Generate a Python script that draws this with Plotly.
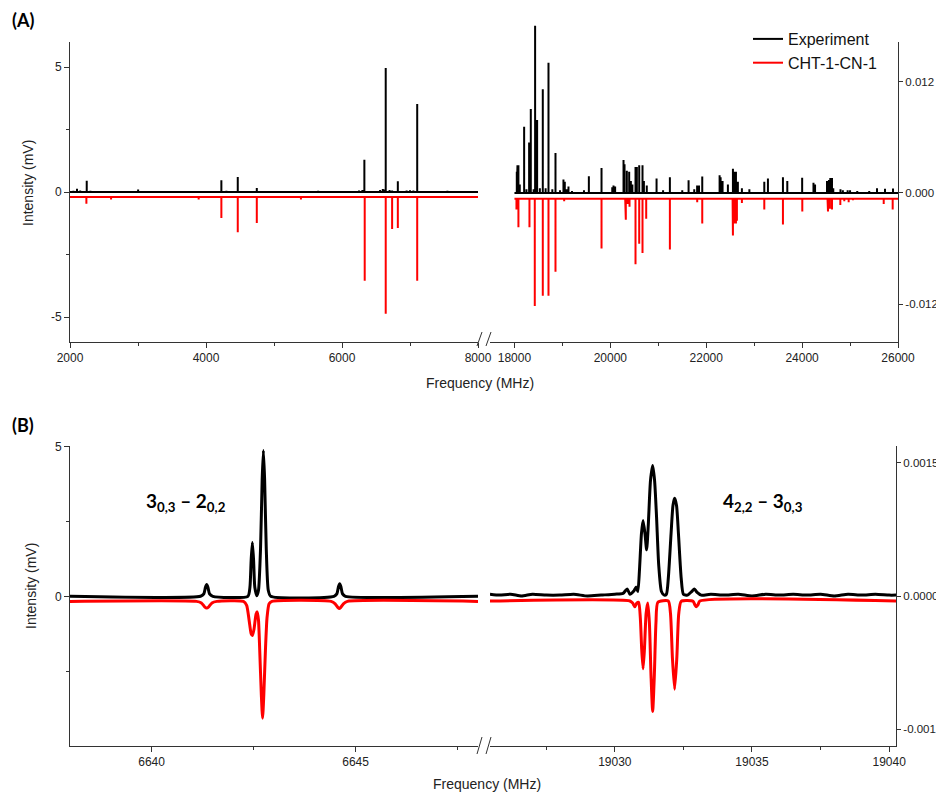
import plotly.graph_objects as go

# ---------------- Panel (A): stick spectra ----------------
# Low band 2000-8000 MHz, left axis (mV)
expA_lo_freq = [2050, 2103, 2150, 2246, 2300, 2600, 3002, 3400, 3900, 4226, 4300, 4467, 4747,
                5100, 5650, 6000, 6250, 6300, 6329, 6560, 6600, 6620, 6643, 6700, 6737, 6821,
                6950, 7000, 7050, 7106, 7300, 7550]
expA_lo_int = [0.05, 0.13, 0.06, 0.45, 0.05, 0.04, 0.10, 0.03, 0.04, 0.47, 0.05, 0.60, 0.16,
               0.03, 0.05, 0.04, 0.06, 0.08, 1.29, 0.08, 0.12, 0.10, 4.96, 0.08, 0.06, 0.43,
               0.06, 0.07, 0.06, 3.52, 0.04, 0.05]
simA_lo_base = -0.2
simA_lo_freq = [2241, 2604, 3892, 4226, 4467, 4747, 5396, 6334, 6643, 6737, 6821, 7106]
simA_lo_int = [-0.47, -0.30, -0.30, -1.04, -1.61, -1.24, -0.30, -3.55, -4.87, -1.48, -1.44, -3.55]

# High band 18000-26000 MHz, right axis
expA_hi_freq = [18049, 18063, 18083, 18111, 18202, 18250, 18306, 18341, 18400, 18431, 18473, 18530,
                18591, 18650, 18710, 18790, 18856, 18950, 19022, 19050, 19090, 19127, 19200, 19450,
                19552, 19816, 20040, 20066, 20100, 20275, 20296, 20344, 20393, 20428, 20460, 20525,
                20553, 20602, 20671, 20700, 20760, 20964, 21100, 21242, 21500, 21632, 21750, 21810,
                21850, 21917, 22279, 22300, 22341, 22452, 22557, 22585, 22620, 22660, 22744, 22900,
                23211, 23287, 23600, 23691, 24001, 24237, 24270, 24519, 24560, 24588, 24623, 24650,
                24800, 24850, 24950, 25000, 25150, 25400, 25562, 25729, 25896]
expA_hi_int = [0.00228, 0.00298, 0.0030, 0.0009, 0.00714, 0.0004, 0.00544, 0.00906, 0.0004, 0.01805,
               0.00787, 0.0005, 0.0112, 0.0005, 0.01407, 0.0004, 0.00431, 0.0003, 0.00145, 0.0012,
               0.0004, 0.0007, 0.0002, 0.0003, 0.0018, 0.0027, 0.0006, 0.0008, 0.0007, 0.00355,
               0.0031, 0.0024, 0.0023, 0.0013, 0.0009, 0.0028, 0.0028, 0.0030, 0.0030, 0.0013,
               0.0008, 0.00156, 0.0003, 0.0017, 0.0003, 0.00138, 0.0004, 0.0008, 0.0008, 0.00178,
               0.0019, 0.0017, 0.0013, 0.0009, 0.0026, 0.0023, 0.0023, 0.0012, 0.0005, 0.0004,
               0.0012, 0.00156, 0.0017, 0.0013, 0.00163, 0.0011, 0.0009, 0.0013, 0.0014, 0.0016,
               0.0016, 0.0005, 0.0004, 0.0003, 0.0003, 0.0003, 0.0002, 0.0002, 0.0005, 0.00045,
               0.00047]
simA_hi_base = -0.00062
simA_hi_freq = [18042, 18083, 18313, 18424, 18591, 18710, 18856, 19037, 19816, 20310, 20323,
                20360, 20400, 20525, 20602, 20671, 20748, 21242, 21812, 21917, 22550, 22557,
                22585, 22620, 22640, 22744, 23211, 23600, 24004, 24530, 24540, 24580, 24623,
                24797, 24880, 24971, 25060, 25702, 25889]
simA_hi_int = [-0.0018, -0.0037, -0.0037, -0.0122, -0.0111, -0.0111, -0.0085, -0.0009, -0.0060,
               -0.0013, -0.0029, -0.0012, -0.0015, -0.0077, -0.0055, -0.0065, -0.0028, -0.0061,
               -0.0010, -0.0033, -0.0035, -0.0046, -0.0033, -0.0033, -0.0030, -0.0011, -0.0018,
               -0.0034, -0.0020, -0.0016, -0.0020, -0.0017, -0.0018, -0.0013, -0.0009, -0.0010,
               -0.0008, -0.0012, -0.0018]

# ---------------- Panel (B): line profiles ----------------
expB_lo_freq = [6638.0, 6641.2, 6641.28, 6641.32, 6641.35, 6641.38, 6641.42, 6641.5,
                6642.36, 6642.41, 6642.44, 6642.47, 6642.50, 6642.53, 6642.58,
                6642.62, 6642.67, 6642.71, 6642.74, 6642.77, 6642.81, 6642.86, 6642.92,
                6644.47, 6644.54, 6644.58, 6644.61, 6644.64, 6644.68, 6644.75, 6648.0]
expB_lo_int = [0, 0, 0.08, 0.30, 0.39, 0.30, 0.08, 0,
               0, 0.30, 1.20, 1.80, 1.20, 0.30, 0.02,
               0.20, 1.60, 3.90, 4.87, 3.90, 1.60, 0.20, 0,
               0, 0.08, 0.32, 0.42, 0.32, 0.08, 0, 0]
simB_lo_freq = [6638.0, 6641.1, 6641.22, 6641.30, 6641.35, 6641.40, 6641.48, 6641.6,
                6642.25, 6642.33, 6642.39, 6642.44, 6642.47, 6642.51, 6642.56, 6642.59,
                6642.62, 6642.65, 6642.69, 6642.72, 6642.75, 6642.79, 6642.83, 6642.88, 6642.95,
                6644.4, 6644.5, 6644.57, 6644.6, 6644.63, 6644.7, 6644.8, 6648.0]
simB_lo_int = [-0.17, -0.17, -0.22, -0.35, -0.39, -0.35, -0.22, -0.17,
               -0.17, -0.30, -0.80, -1.25, -1.31, -1.10, -0.60, -0.52,
               -0.80, -1.80, -3.30, -4.07, -3.30, -1.80, -0.70, -0.25, -0.17,
               -0.17, -0.25, -0.38, -0.41, -0.38, -0.25, -0.17, -0.17]

expB_hi_freq = [19025.45, 19025.8, 19026.2, 19026.6, 19027.0, 19027.5, 19028.0, 19028.5, 19029.0,
                19029.5, 19030.0, 19030.3, 19030.45, 19030.55, 19030.7, 19030.78, 19030.84,
                19030.9, 19030.97, 19031.03, 19031.1, 19031.16, 19031.22, 19031.3, 19031.38,
                19031.45, 19031.52, 19031.6, 19031.7, 19031.8, 19031.88, 19031.95, 19032.05,
                19032.12, 19032.18, 19032.25, 19032.32, 19032.42, 19032.5, 19032.65, 19032.8,
                19032.9, 19033.0, 19033.15, 19033.5, 19034.0, 19034.5, 19035.0, 19035.5,
                19036.0, 19036.5, 19037.0, 19037.5, 19038.0, 19038.5, 19039.0, 19039.5,
                19040.0, 19040.25]
expB_hi_int = [0.00002, 0.00001, 0.00002, 0.0, 0.00002, 0.00001, 0.00001, 0.00002, 0.0,
               0.00001, 0.00002, 0.00003, 0.00008, 0.00002, 0.00006, 0.0001, 0.00005,
               0.0003, 0.0007, 0.00085, 0.0007, 0.00052, 0.0008, 0.0013, 0.00147,
               0.0013, 0.0009, 0.00035, 0.00005, 0.00001, 0.00002, 0.0002, 0.0007,
               0.00102, 0.0011, 0.00102, 0.0007, 0.0002, 0.00002, 0.00001, 0.00005,
               0.00008, 0.00004, 0.00001, 0.00002, 0.00001, 0.00002, 0.0, 0.00002,
               0.00001, 0.00002, 0.00001, 0.00002, 0.0, 0.00002, 0.00001, 0.00002,
               0.00001, 0.00001]
simB_hi_freq = [19025.45, 19030.55, 19030.65, 19030.73, 19030.8, 19030.87, 19030.93, 19030.98,
                19031.03, 19031.08, 19031.14, 19031.2, 19031.26, 19031.32, 19031.38, 19031.44,
                19031.5, 19031.57, 19031.95, 19032.03, 19032.1, 19032.18, 19032.26, 19032.33,
                19032.42, 19032.85, 19032.92, 19032.97, 19033.03, 19033.1, 19040.25]
simB_hi_int = [-0.000056, -0.000056, -0.00008, -0.00012, -0.00008, -0.00007, -0.00025, -0.0006,
               -0.00082, -0.0006, -0.0002, -0.00008, -0.0003, -0.0009, -0.0013, -0.0009,
               -0.0003, -0.00007, -0.000056, -0.0002, -0.0007, -0.00105, -0.0007, -0.0002,
               -0.00006, -0.00006, -0.0001, -0.00012, -0.0001, -0.000056, -0.000056]

# tick labels
xA_lo_ticks = [2000, 4000, 6000, 8000]
xA_lo_labels = ["2000", "4000", "6000", "8000"]
xA_hi_ticks = [18000, 20000, 22000, 24000, 26000]
xA_hi_labels = ["18000", "20000", "22000", "24000", "26000"]
yA_lo_ticks = [-5, 0, 5]
yA_lo_labels = ["-5", "0", "5"]
yA_hi_ticks = [-0.012, 0.0, 0.012]
yA_hi_labels = ["-0.012", "0.000", "0.012"]
xB_lo_ticks = [6640, 6645]
xB_lo_labels = ["6640", "6645"]
xB_hi_ticks = [19030, 19035, 19040]
xB_hi_labels = ["19030", "19035", "19040"]
yB_lo_ticks = [0, 5]
yB_lo_labels = ["0", "5"]
yB_hi_ticks = [-0.0015, 0.0, 0.0015]
yB_hi_labels = ["-0.0015", "0.0000", "0.0015"]


def stick_path(freqs, ints, base, x0, x1):
    xs, ys = [x0], [base]
    for f, h in sorted(zip(freqs, ints)):
        xs += [f, f, f]
        ys += [base, h, base]
    xs.append(x1)
    ys.append(base)
    return xs, ys


# the page body adds an 8px offset; lay out in window pixel coordinates
OFF = 8
W, H = 944 - OFF, 794 - OFF
def px(x):
    return (x - OFF) / W
def py(y):
    return 1 - (y - OFF) / H

BLACK = "#000000"
RED = "#ff0000"

# right axis of panel A
A2_LO, A2_HI = -0.0161, 0.0163
A2_PER_PX = (A2_HI - A2_LO) / (342 - 42)
A5_HI = A2_HI + (42 - 18) * A2_PER_PX  # taller invisible twin so the strongest line can rise above the axis top

fig = go.Figure()
x, y = stick_path(expA_lo_freq, expA_lo_int, 0.0, 2000, 8000)
fig.add_trace(go.Scatter(x=x, y=y, mode="lines", line=dict(color=BLACK, width=2),
                         name="Experiment", xaxis="x", yaxis="y"))
x, y = stick_path(simA_lo_freq, simA_lo_int, simA_lo_base, 2000, 8000)
fig.add_trace(go.Scatter(x=x, y=y, mode="lines", line=dict(color=RED, width=2),
                         name="CHT-1-CN-1", xaxis="x", yaxis="y"))
x, y = stick_path(simA_hi_freq, simA_hi_int, simA_hi_base, 18000, 26000)
fig.add_trace(go.Scatter(x=x, y=y, mode="lines", line=dict(color=RED, width=2),
                         showlegend=False, xaxis="x2", yaxis="y2"))
x, y = stick_path(expA_hi_freq, expA_hi_int, 0.0, 18000, 26000)
fig.add_trace(go.Scatter(x=x, y=y, mode="lines", line=dict(color=BLACK, width=2),
                         showlegend=False, xaxis="x2", yaxis="y5"))

fig.add_trace(go.Scatter(x=expB_lo_freq, y=expB_lo_int, mode="lines",
                         line=dict(color=BLACK, width=3, shape="spline", smoothing=0.6),
                         showlegend=False, xaxis="x3", yaxis="y3"))
fig.add_trace(go.Scatter(x=simB_lo_freq, y=simB_lo_int, mode="lines",
                         line=dict(color=RED, width=3, shape="spline", smoothing=0.6),
                         showlegend=False, xaxis="x3", yaxis="y3"))
fig.add_trace(go.Scatter(x=expB_hi_freq, y=expB_hi_int, mode="lines",
                         line=dict(color=BLACK, width=3, shape="spline", smoothing=0.6),
                         showlegend=False, xaxis="x4", yaxis="y4"))
fig.add_trace(go.Scatter(x=simB_hi_freq, y=simB_hi_int, mode="lines",
                         line=dict(color=RED, width=3, shape="spline", smoothing=0.6),
                         showlegend=False, xaxis="x4", yaxis="y4"))

AX = "#333333"
TICKFONT = dict(family="Liberation Sans, Arial, sans-serif", size=12, color="#222222")
common = dict(showline=True, linecolor=AX, linewidth=1, ticks="outside", ticklen=5,
              tickwidth=1, tickcolor=AX, showgrid=False, zeroline=False, tickfont=TICKFONT,
              automargin=False, tickmode="array")
common_r = dict(common, ticklen=4,
                tickfont=dict(family="Liberation Sans, Arial, sans-serif", size=11.5, color="#222222"))
minor_style = dict(ticks="outside", ticklen=3, tickwidth=1, tickcolor=AX, showgrid=False)

fig.update_layout(
    width=W, height=H, margin=dict(l=0, r=0, t=0, b=0, autoexpand=False),
    paper_bgcolor="white", plot_bgcolor="rgba(0,0,0,0)",
    font=dict(family="Liberation Sans, Arial, sans-serif", color="#111111"),
    xaxis=dict(domain=[px(70), px(478)], anchor="y", range=[2000, 8000],
               tickvals=xA_lo_ticks, ticktext=xA_lo_labels,
               minor=dict(tickvals=[3000, 5000, 7000], **minor_style), **common),
    yaxis=dict(domain=[py(342), py(42)], anchor="x", range=[-6, 6],
               tickvals=yA_lo_ticks, ticktext=yA_lo_labels,
               minor=dict(tickvals=[-2.5, 2.5], **minor_style), **common),
    xaxis2=dict(domain=[px(490), px(898)], anchor="y2", range=[17490, 26000],
                tickvals=xA_hi_ticks, ticktext=xA_hi_labels,
                minor=dict(tickvals=[19000, 21000, 23000, 25000], **minor_style), **common),
    yaxis2=dict(domain=[py(342), py(42)], anchor="x2", side="right", range=[A2_LO, A2_HI],
                tickvals=yA_hi_ticks, ticktext=yA_hi_labels, **common_r),
    yaxis5=dict(domain=[py(342), py(18)], anchor="x2", range=[A2_LO, A5_HI], visible=False,
                showgrid=False, zeroline=False, automargin=False),
    xaxis3=dict(domain=[px(70), px(478)], anchor="y3", range=[6638, 6648],
                tickvals=xB_lo_ticks, ticktext=xB_lo_labels,
                minor=dict(tickvals=[6642.5, 6647.5], **minor_style), **common),
    yaxis3=dict(domain=[py(746), py(446)], anchor="x3", range=[-5, 5.02],
                tickvals=yB_lo_ticks, ticktext=yB_lo_labels,
                minor=dict(tickvals=[-2.5, 2.5], **minor_style), **common),
    xaxis4=dict(domain=[px(490), px(896)], anchor="y4", range=[19025.45, 19040.25],
                tickvals=xB_hi_ticks, ticktext=xB_hi_labels,
                minor=dict(tickvals=[19027.5, 19032.5, 19037.5], **minor_style), **common),
    yaxis4=dict(domain=[py(746), py(446)], anchor="x4", side="right", range=[-0.00169, 0.00169],
                tickvals=yB_hi_ticks, ticktext=yB_hi_labels, **common_r),
    legend=dict(x=px(748), y=py(22), xanchor="left", yanchor="top",
                font=dict(size=16, color="#111111"), bgcolor="rgba(0,0,0,0)",
                tracegroupgap=0, itemwidth=30),
)

# axis break marks
for yb, yt in [(346, 332), (754, 737)]:
    for x0 in (477, 486):
        fig.add_shape(type="line", xref="paper", yref="paper",
                      x0=px(x0), y0=py(yb), x1=px(x0 + 5), y1=py(yt),
                      line=dict(color=AX, width=1))

ann_font = dict(family="Liberation Sans, Arial, sans-serif", size=14, color="#222222")
bold_font = dict(family="Lato, Open Sans, sans-serif", size=19, color="#000000")
lbl_font = dict(family="Lato, Open Sans, sans-serif", size=18, color="#000000")

def note(xp, yp, text, font, angle=0, xanchor="center"):
    fig.add_annotation(x=px(xp), y=py(yp), xref="paper", yref="paper", xanchor=xanchor,
                       yanchor="middle", text=text, showarrow=False, font=font,
                       textangle=angle)

note(10, 20, "<b>(A)</b>", lbl_font, xanchor="left")
note(10, 425, "<b>(B)</b>", lbl_font, xanchor="left")
note(480, 383, "Frequency (MHz)", ann_font)
note(487, 784, "Frequency (MHz)", ann_font)
note(28, 183, "Intensity (mV)", ann_font, angle=-90)
note(31, 586, "Intensity (mV)", ann_font, angle=-90)
note(186, 502, "<b>3<sub>0,3</sub> – 2<sub>0,2</sub></b>", bold_font)
note(763, 502, "<b>4<sub>2,2</sub> – 3<sub>0,3</sub></b>", bold_font)

fig.write_html("out.html")
